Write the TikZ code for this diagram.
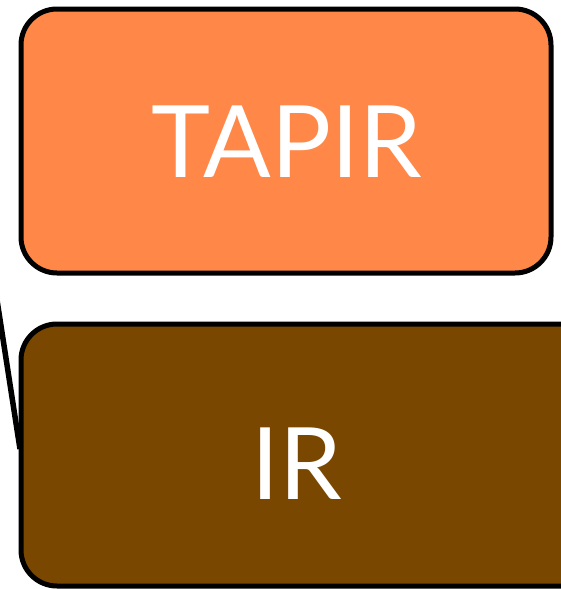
\documentclass[tikz,border=0pt]{standalone}
\usepackage{fontspec}
\setmainfont{Lato}
\definecolor{tapirorange}{RGB}{255,135,72}
\definecolor{irbrown}{RGB}{122,71,0}
\begin{document}
\begin{tikzpicture}[x=1pt,y=-1pt,
  box/.style={draw=black,line width=5pt,rounded corners=36pt},
  lbl/.style={text=white,font=\fontsize{100}{100}\selectfont,inner sep=0pt}]
\useasboundingbox (0,0) rectangle (561,589);
\clip (0,0) rectangle (561,589);
\fill[white] (0,0) rectangle (561,589);
\draw[box,fill=tapirorange] (21,9) rectangle (551,273);
\draw[box,fill=irbrown] (21,324) rectangle (600,586);
\coordinate (lineA) at (-3,300);
\coordinate (lineB) at (20,449);
\draw[line width=5.5pt] (lineA) -- (lineB);
\node[lbl] (tapir) at (287,142) {TAPIR};
\node[lbl] (ir) at (297,464) {IR};
\end{tikzpicture}
\end{document}
